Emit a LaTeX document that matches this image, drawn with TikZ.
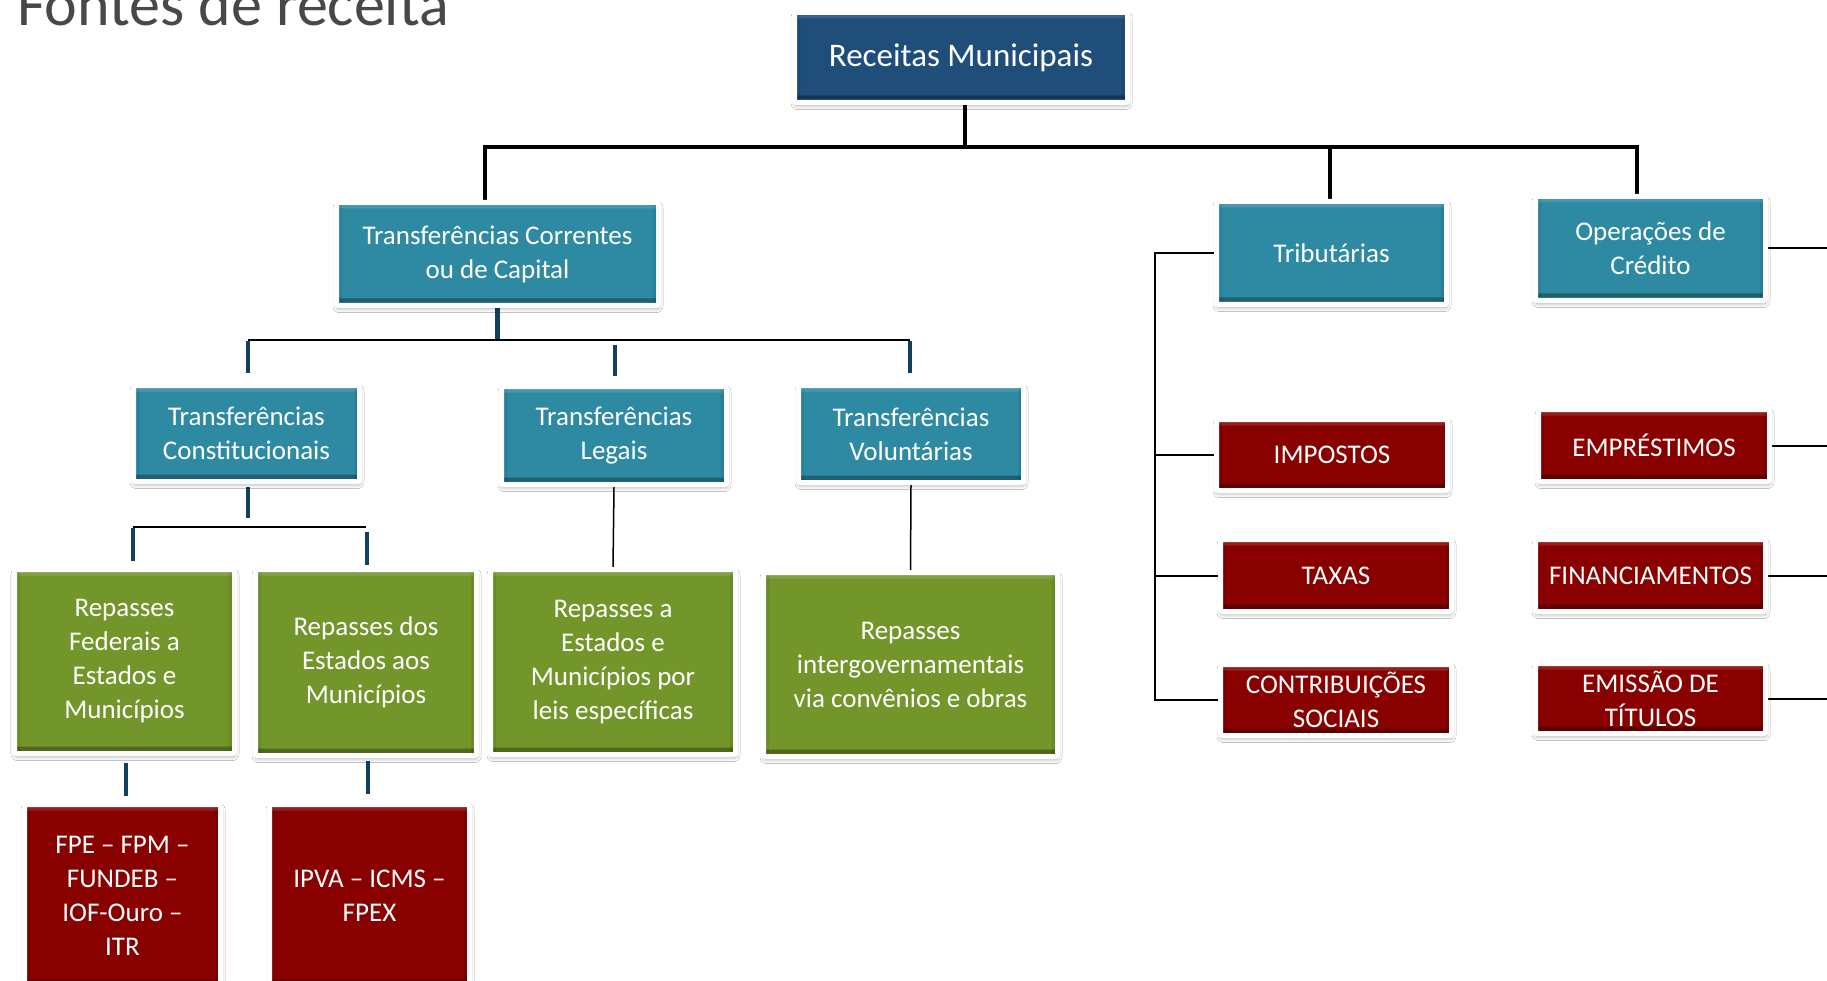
\documentclass[tikz,border=0pt]{standalone}
\usepackage{fontspec}
\setmainfont{Carlito}
\usetikzlibrary{shadows.blur}
\definecolor{recblue}{HTML}{1F4E7A}
\definecolor{tealc}{HTML}{2E8AA3}
\definecolor{greenc}{HTML}{73962B}
\definecolor{redc}{HTML}{880000}
\definecolor{navyc}{HTML}{12405E}
\definecolor{titlegray}{HTML}{484848}
\pgfdeclarelayer{bg}
\pgfsetlayers{bg,main}
\tikzset{
  box/.style={draw=white, line width=5pt, rounded corners=2pt, text=white,
    align=center, inner sep=0pt, font=\fontsize{27}{34}\selectfont,
    blur shadow={shadow xshift=0.5pt, shadow yshift=-3pt, shadow blur radius=4pt, shadow opacity=35},
    path picture={
      \fill[black,opacity=.3] ([yshift=2.5pt]path picture bounding box.south west) rectangle ([yshift=7pt]path picture bounding box.south east);
      \fill[white,opacity=.12] ([yshift=-2.5pt]path picture bounding box.north west) rectangle ([yshift=-6pt]path picture bounding box.north east);
      \fill[black,opacity=.08] ([xshift=2.5pt]path picture bounding box.south west) rectangle ([xshift=5.5pt]path picture bounding box.north west);
      \fill[black,opacity=.08] ([xshift=-2.5pt]path picture bounding box.south east) rectangle ([xshift=-5.5pt]path picture bounding box.north east);
    }},
  recbox/.style={box, fill=recblue, font=\fontsize{33}{40}\selectfont},
  tealbox/.style={box, fill=tealc},
  greenbox/.style={box, fill=greenc},
  redbox/.style={box, fill=redc},
  lvlone/.style={black, line width=4pt, line join=miter},
  thinline/.style={black, line width=2pt},
  navyline/.style={navyc, line width=4.5pt},
  vline/.style={black, line width=1.5pt}
}
\begin{document}
\begin{tikzpicture}[x=1pt,y=-1pt]
\useasboundingbox (0,0) rectangle (1827,981);
\clip (0,0) rectangle (1827,981);

\node[anchor=base west, text=titlegray, inner sep=0pt, font=\fontsize{62}{68}\selectfont] (title) at (17,26) {Fontes de receita};

% level 0/1
\node[recbox, minimum width=333pt, minimum height=90pt] (rec) at (961,57.5) {Receitas Municipais};
\node[tealbox, minimum width=322pt, minimum height=103pt] (tcc) at (497.5,254) {Transferências Correntes\\ou de Capital};
\node[tealbox, minimum width=230pt, minimum height=103pt] (trib) at (1331.5,253) {Tributárias};
\node[tealbox, minimum width=230pt, minimum height=104pt] (oper) at (1650.5,248.5) {Operações de\\Crédito};

% level 2
\node[tealbox, minimum width=226pt, minimum height=96pt] (const) at (246.5,433.5) {Transferências\\Constitucionais};
\node[tealbox, minimum width=225pt, minimum height=98pt] (legais) at (614,435.5) {Transferências\\Legais};
\node[tealbox, minimum width=225pt, minimum height=97pt] (volunt) at (911,434) {Transferências\\Voluntárias};

% level 3
\node[greenbox, minimum width=220pt, minimum height=184pt] (fed) at (124.5,661.5) {Repasses\\Federais a\\Estados e\\Municípios};
\node[greenbox, minimum width=221pt, minimum height=186pt] (est) at (366,662.5) {Repasses dos\\Estados aos\\Municípios};
\node[greenbox, minimum width=245pt, minimum height=185pt] (leis) at (613,662) {Repasses a\\Estados e\\Municípios por\\leis específicas};
\node[greenbox, minimum width=294pt, minimum height=184pt] (inter) at (910.5,664.5) {Repasses\\intergovernamentais\\via convênios e obras};

% level 4
\node[redbox, minimum width=196pt, minimum height=182pt] (fpe) at (122.5,895.5) {FPE – FPM –\\FUNDEB –\\IOF-Ouro –\\ITR};
\node[redbox, minimum width=200pt, minimum height=182pt] (ipva) at (369.5,895.5) {IPVA – ICMS –\\FPEX};

% right side
\node[redbox, minimum width=231pt, minimum height=71pt] (imp) at (1332,455) {IMPOSTOS};
\node[redbox, minimum width=231pt, minimum height=72pt] (tax) at (1336,575.5) {TAXAS};
\node[redbox, minimum width=231pt, minimum height=71pt] (contrib) at (1336,700) {CONTRIBUIÇÕES\\SOCIAIS};
\node[redbox, minimum width=231pt, minimum height=72pt] (emp) at (1654,445.5) {EMPRÉSTIMOS};
\node[redbox, minimum width=230pt, minimum height=72pt] (fin) at (1650.5,575.5) {FINANCIAMENTOS};
\node[redbox, minimum width=230pt, minimum height=70pt] (emi) at (1650.5,698.5) {EMISSÃO DE\\TÍTULOS};

% coordinates
\coordinate (hA) at (965,147);
\coordinate (hL) at (485,147);
\coordinate (hM) at (1330,147);
\coordinate (hR) at (1637,147);
\coordinate (bL) at (248,340);
\coordinate (bR) at (910,340);
\coordinate (dA1) at (248,341);
\coordinate (dA2) at (248,373);
\coordinate (dB1) at (615,345);
\coordinate (dB2) at (615,376);
\coordinate (dC1) at (910,341);
\coordinate (dC2) at (910,373);
\coordinate (cA1) at (248,487);
\coordinate (cA2) at (248,518);
\coordinate (cL) at (133,527);
\coordinate (cR) at (366,527);
\coordinate (eA1) at (133,528);
\coordinate (eA2) at (133,561);
\coordinate (eB1) at (367,532);
\coordinate (eB2) at (367,565);
\coordinate (fA1) at (126,763);
\coordinate (fA2) at (126,796);
\coordinate (fB1) at (368,761);
\coordinate (fB2) at (368,794);
\coordinate (vx) at (1155,0);
\coordinate (edge) at (1827,0);

\begin{pgfonlayer}{bg}
  \fill[white] (0,0) rectangle (1827,981);
  \draw[lvlone] (rec.south -| hA) -- (hA);
  \draw[lvlone] (hL |- tcc.north) -- (hL) -- (hR) -- (hR |- oper.north);
  \draw[lvlone] (hM) -- (hM |- trib.north);
  \draw[navyline] (tcc.south) -- (tcc.south |- bL);
  \draw[thinline] (bL) -- (bR);
  \draw[navyline] (dA1) -- (dA2);
  \draw[navyline] (dB1) -- (dB2);
  \draw[navyline] (dC1) -- (dC2);
  \draw[navyline] (cA1) -- (cA2);
  \draw[thinline] (cL) -- (cR);
  \draw[navyline] (eA1) -- (eA2);
  \draw[navyline] (eB1) -- (eB2);
  \draw[navyline] (fA1) -- (fA2);
  \draw[navyline] (fB1) -- (fB2);
  \draw[vline] (legais.south) -- (leis.north);
  \draw[vline] (volunt.south) -- (inter.north);
  \draw[thinline] (trib.west) -- (vx |- trib.west) -- (vx |- contrib.west) -- (contrib.west);
  \draw[thinline] (vx |- imp.west) -- (imp.west);
  \draw[thinline] (vx |- tax.west) -- (tax.west);
  \draw[thinline] (oper.east) -- (oper.east -| edge);
  \draw[thinline] (emp.east) -- (emp.east -| edge);
  \draw[thinline] (fin.east) -- (fin.east -| edge);
  \draw[thinline] (emi.east) -- (emi.east -| edge);
\end{pgfonlayer}
\end{tikzpicture}
\end{document}
